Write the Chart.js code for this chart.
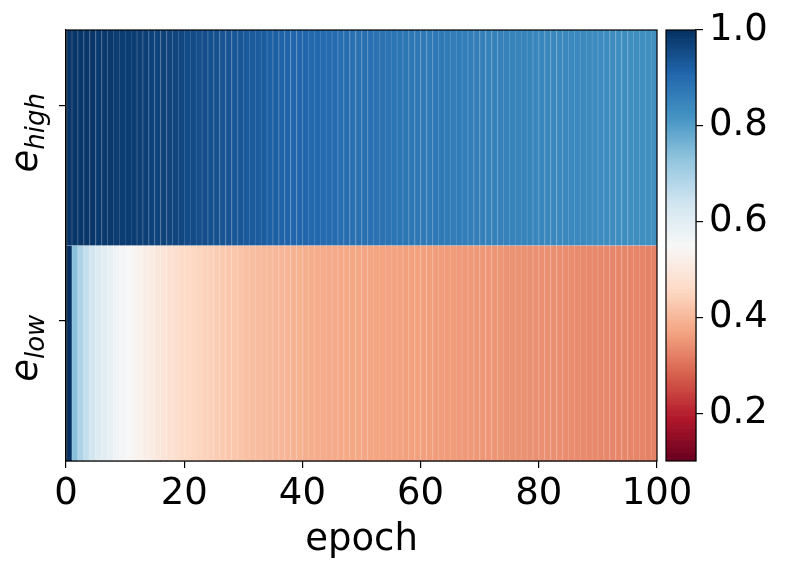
<!DOCTYPE html>
<html>
<head>
<meta charset="utf-8">
<script src="https://cdn.jsdelivr.net/npm/chart.js@4.4.1/dist/chart.umd.min.js"></script>
<style>
  html, body { margin: 0; padding: 0; background: #fff; }
  #wrap { position: relative; width: 786px; height: 573px; }
  #main { position: absolute; left: 0; top: 0; }
  #cbar { position: absolute; left: 640px; top: 0; }
</style>
</head>
<body>
<div id="wrap">
  <canvas id="main" width="786" height="573" style="width:786px;height:573px"></canvas>
  <canvas id="cbar" width="146" height="573" style="width:146px;height:573px"></canvas>
</div>
<script>
// ---- data ----
const rowLabels = [{ base: 'e', sub: 'high' }, { base: 'e', sub: 'low' }];
const rowCenters = [0.5, 1.5];
const rowTickValues = [0.35, 1.35];
const xTicks = [0, 20, 40, 60, 80, 100];
const xTitle = 'epoch';

// value per epoch (one cell per epoch)
const eHigh = [
    0.99, 0.99, 0.99, 0.99, 0.99, 0.985, 0.985, 0.985, 0.98, 0.98,
    0.98, 0.98, 0.975, 0.975, 0.97, 0.97, 0.97, 0.965, 0.965, 0.96,
    0.955, 0.955, 0.95, 0.95, 0.945, 0.945, 0.94, 0.94, 0.935, 0.935,
    0.93, 0.93, 0.925, 0.925, 0.92, 0.92, 0.915, 0.915, 0.91, 0.91,
    0.91, 0.905, 0.905, 0.9, 0.9, 0.9, 0.895, 0.895, 0.89, 0.89,
    0.89, 0.888, 0.886, 0.884, 0.882, 0.88, 0.88, 0.878, 0.876, 0.876,
    0.875, 0.873, 0.872, 0.87, 0.868, 0.866, 0.865, 0.863, 0.861, 0.86,
    0.858, 0.857, 0.856, 0.855, 0.853, 0.852, 0.851, 0.85, 0.848, 0.847,
    0.846, 0.845, 0.844, 0.843, 0.842, 0.841, 0.84, 0.839, 0.838, 0.837,
    0.836, 0.835, 0.834, 0.833, 0.832, 0.831, 0.83, 0.829, 0.829, 0.828
];
const eLow = [
    1.0, 0.74, 0.69, 0.66, 0.635, 0.615, 0.6, 0.585, 0.57, 0.56,
    0.55, 0.54, 0.53, 0.52, 0.51, 0.5, 0.49, 0.48, 0.475, 0.465,
    0.46, 0.455, 0.45, 0.445, 0.44, 0.435, 0.43, 0.427, 0.424, 0.42,
    0.415, 0.412, 0.41, 0.407, 0.404, 0.401, 0.398, 0.396, 0.393, 0.39,
    0.388, 0.386, 0.384, 0.382, 0.38, 0.379, 0.377, 0.376, 0.374, 0.373,
    0.372, 0.371, 0.37, 0.369, 0.368, 0.367, 0.366, 0.365, 0.364, 0.363,
    0.362, 0.361, 0.36, 0.359, 0.358, 0.357, 0.356, 0.355, 0.354, 0.353,
    0.352, 0.351, 0.35, 0.349, 0.348, 0.347, 0.346, 0.345, 0.344, 0.343,
    0.342, 0.341, 0.34, 0.339, 0.338, 0.337, 0.336, 0.335, 0.334, 0.333,
    0.332, 0.331, 0.33, 0.33, 0.329, 0.328, 0.328, 0.327, 0.326, 0.326
];

const cbarMin = 0.1;
const cbarMax = 1.0;
const cbarTicks = [0.2, 0.4, 0.6, 0.8, 1.0];
const cbarSteps = 180;

// RdBu colormap anchors
const rdbu = ['#67001f', '#b2182b', '#d6604d', '#f4a582', '#fddbc7', '#f7f7f7',
              '#d1e5f0', '#92c5de', '#4393c3', '#2166ac', '#053061'];

const FONT = '"DejaVu Sans", sans-serif';
const FS = 37;

function hexToRgb(h) {
    return [parseInt(h.slice(1, 3), 16), parseInt(h.slice(3, 5), 16), parseInt(h.slice(5, 7), 16)];
}
const rdbuRgb = rdbu.map(hexToRgb);

function cmapRgb(v) {
    let t = (v - cbarMin) / (cbarMax - cbarMin);
    t = Math.max(0, Math.min(1, t));
    const pos = t * (rdbuRgb.length - 1);
    const i = Math.min(Math.floor(pos), rdbuRgb.length - 2);
    const f = pos - i;
    const a = rdbuRgb[i], b = rdbuRgb[i + 1];
    return [0, 1, 2].map(k => Math.round(a[k] + (b[k] - a[k]) * f));
}
function cmap(v) {
    const c = cmapRgb(v);
    return `rgb(${c[0]},${c[1]},${c[2]})`;
}
function cmapLight(v) {
    const c = cmapRgb(v).map(x => Math.round(x + (255 - x) * 0.16));
    return `rgb(${c[0]},${c[1]},${c[2]})`;
}

Chart.defaults.color = '#000';
Chart.defaults.font.family = FONT;

function rowDataset(values, rowIndex) {
    return {
        label: rowLabels[rowIndex].base + '_' + rowLabels[rowIndex].sub,
        data: values.map((v, i) => ({ x: [i, i + 1], y: rowCenters[rowIndex] })),
        backgroundColor: values.map(cmap),
        borderColor: values.map(cmapLight),
        borderWidth: { left: 1, right: 0, top: 0, bottom: 0 },
        borderSkipped: false,
        grouped: false,
        categoryPercentage: 1,
        barPercentage: 1
    };
}

// frame around the plot area
const framePlugin = {
    id: 'frame',
    afterDatasetsDraw(chart) {
        const a = chart.chartArea;
        const ctx = chart.ctx;
        ctx.save();
        ctx.strokeStyle = '#000';
        ctx.lineWidth = 1.2;
        ctx.strokeRect(a.left, a.top, a.right - a.left, a.bottom - a.top);
        ctx.restore();
    }
};

// row labels with subscripts, rotated
const rowLabelPlugin = {
    id: 'rowLabels',
    afterDraw(chart) {
        const ctx = chart.ctx;
        const yScale = chart.scales.y;
        ctx.save();
        ctx.fillStyle = '#000';
        rowLabels.forEach((lab, i) => {
            const cy = yScale.getPixelForValue(rowCenters[i]) - 5;
            ctx.font = `italic ${FS}px ${FONT}`;
            const wBase = ctx.measureText(lab.base).width;
            ctx.font = `italic ${Math.round(FS * 0.7)}px ${FONT}`;
            const wSub = ctx.measureText(lab.sub).width;
            const total = wBase + wSub;
            ctx.save();
            ctx.translate(37, cy + total / 2);
            ctx.rotate(-Math.PI / 2);
            ctx.textBaseline = 'alphabetic';
            ctx.textAlign = 'left';
            ctx.font = `italic ${FS}px ${FONT}`;
            ctx.fillText(lab.base, 0, 0);
            ctx.font = `italic ${Math.round(FS * 0.7)}px ${FONT}`;
            ctx.fillText(lab.sub, wBase, 7);
            ctx.restore();
        });
        ctx.restore();
    }
};

new Chart(document.getElementById('main'), {
    type: 'bar',
    data: {
        datasets: [rowDataset(eHigh, 0), rowDataset(eLow, 1)]
    },
    options: {
        indexAxis: 'y',
        responsive: false,
        animation: false,
        layout: { padding: { left: 0, top: 30, right: 129, bottom: 0 } },
        plugins: { legend: { display: false }, tooltip: { enabled: false } },
        scales: {
            x: {
                type: 'linear',
                min: 0,
                max: 100,
                offset: false,
                afterBuildTicks: axis => { axis.ticks = xTicks.map(v => ({ value: v })); },
                afterFit: s => { s.height = 112; },
                grid: { drawOnChartArea: false, offset: false, tickLength: 7, color: '#000', lineWidth: 1.2 },
                border: { color: '#000', width: 1.2 },
                ticks: { font: { size: FS }, padding: 4, maxRotation: 0 },
                title: { display: true, text: xTitle, font: { size: FS }, padding: { top: 0, bottom: 10 } }
            },
            y: {
                type: 'linear',
                min: 0,
                max: 2,
                reverse: true,
                offset: false,
                afterBuildTicks: axis => { axis.ticks = rowTickValues.map(v => ({ value: v })); },
                afterFit: s => { s.width = 66; },
                grid: { drawOnChartArea: false, offset: false, tickLength: 7, color: '#000', lineWidth: 1.2 },
                border: { color: '#000', width: 1.2 },
                ticks: { display: false }
            }
        }
    },
    plugins: [framePlugin, rowLabelPlugin]
});

// ---- colorbar ----
const cbarData = [];
const cbarColors = [];
const dv = (cbarMax - cbarMin) / cbarSteps;
for (let i = 0; i < cbarSteps; i++) {
    const lo = cbarMin + i * dv;
    cbarData.push({ x: 0.5, y: [lo, lo + dv * 1.02] });
    cbarColors.push(cmap(lo + dv / 2));
}

new Chart(document.getElementById('cbar'), {
    type: 'bar',
    data: {
        datasets: [{
            data: cbarData,
            backgroundColor: cbarColors,
            borderWidth: 0,
            categoryPercentage: 1,
            barPercentage: 1
        }]
    },
    options: {
        responsive: false,
        animation: false,
        layout: { padding: { left: 26, top: 30, right: 0, bottom: 112 } },
        plugins: { legend: { display: false }, tooltip: { enabled: false } },
        scales: {
            x: {
                type: 'linear',
                display: false,
                min: 0,
                max: 1,
                offset: false,
                afterBuildTicks: axis => { axis.ticks = [{ value: 0.5 }]; }
            },
            y: {
                type: 'linear',
                position: 'right',
                min: cbarMin,
                max: cbarMax,
                afterBuildTicks: axis => { axis.ticks = cbarTicks.map(v => ({ value: v })); },
                afterFit: s => { s.width = 90; },
                grid: { drawOnChartArea: false, tickLength: 7, color: '#000', lineWidth: 1.2 },
                border: { color: '#000', width: 1.2 },
                ticks: { font: { size: FS }, padding: 6, callback: v => v.toFixed(1) }
            }
        }
    },
    plugins: [framePlugin]
});
</script>
</body>
</html>
